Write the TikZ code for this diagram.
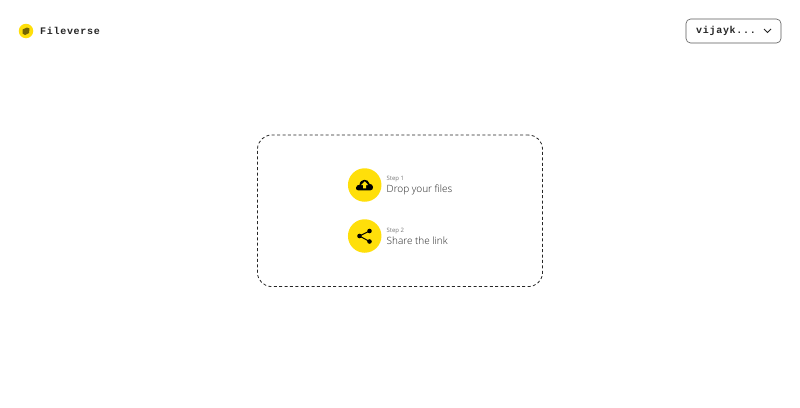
\documentclass[tikz,border=0pt]{standalone}
\usepackage{fontspec}
\setmainfont{Open Sans}
\newfontfamily\lightfont{Open Sans Light}
\newfontfamily\pixelfont[LetterSpace=7]{Liberation Mono}
\definecolor{brandyellow}{HTML}{FFDF0A}
\definecolor{labelgrey}{HTML}{222222}
\definecolor{stepgrey}{HTML}{777777}
\tikzset{
  badge/.style={circle,fill=brandyellow,minimum size=33.5pt,inner sep=0pt},
  steplabel/.style={anchor=west,inner sep=0pt,font=\fontsize{6}{6}\selectfont,text=stepgrey},
  mainlabel/.style={anchor=west,inner sep=0pt,font=\lightfont\fontsize{10}{10}\selectfont,text=labelgrey},
  pixeltext/.style={anchor=west,inner sep=0pt,font=\pixelfont\bfseries\fontsize{10}{10}\selectfont,text=black!85}
}
\begin{document}
\begin{tikzpicture}[x=1pt,y=-1pt]
\useasboundingbox[fill=white] (0,0) rectangle (800,407);
% logo
\node[circle,fill=brandyellow,minimum size=14.5pt,inner sep=0pt] (logo) at (26,31) {};
\fill[black!55!brandyellow] (22.5,29.5) -- (27,27.5) -- (29.5,28.5) -- (29,33) -- (25,35) -- (22.5,33.5) -- cycle;
\node[pixeltext] (brand) at (40,30.5) {Fileverse};
% account button
\node[draw=black!65,line width=0.6pt,rounded corners=4.5pt,minimum width=95pt,minimum height=24pt,inner sep=0pt] (account) at (733.5,31) {};
\node[pixeltext] (user) at (696,31) {vijayk...};
\coordinate (chevl) at (764,29);
\coordinate (chevm) at (767.5,32.5);
\coordinate (chevr) at (771,29);
\draw[line width=0.9pt,black!85] (chevl) -- (chevm) -- (chevr);
% drop zone
\node[draw=black!85,dashed,dash pattern=on 3pt off 2.4pt,line width=0.8pt,rounded corners=14pt,minimum width=285pt,minimum height=151.5pt,inner sep=0pt] (zone) at (400,210.8) {};
% step 1
\node[badge] (one) at (364.7,185) {};
\fill[black] (358,190.3) .. controls (354.5,190.3) and (356,184.3) .. (359.5,184.8)
  .. controls (360,178.3) and (368.5,178.3) .. (369.5,183.8)
  .. controls (374,183.8) and (374,190.3) .. (370.5,190.3) -- cycle;
\fill[brandyellow] (364.7,181.3) -- (368.2,185) -- (366.2,185) -- (366.2,188.3) -- (363.2,188.3) -- (363.2,185) -- (361.2,185) -- cycle;
\node[steplabel] (s1) at (386.5,179.3) {Step 1};
\node[mainlabel] (t1) at (386.5,189.7) {Drop your files};
% step 2
\node[badge] (two) at (364.7,236) {};
\coordinate (sa) at (369.5,231);
\coordinate (sb) at (359.5,236);
\coordinate (sc) at (369.5,241.5);
\draw[line width=1pt,black] (sa) -- (sb) -- (sc);
\fill[black] (sa) circle (2.3pt) (sb) circle (2.3pt) (sc) circle (2.3pt);
\node[steplabel] (s2) at (386.5,230.8) {Step 2};
\node[mainlabel] (t2) at (386.5,240.5) {Share the link};
\end{tikzpicture}
\end{document}
